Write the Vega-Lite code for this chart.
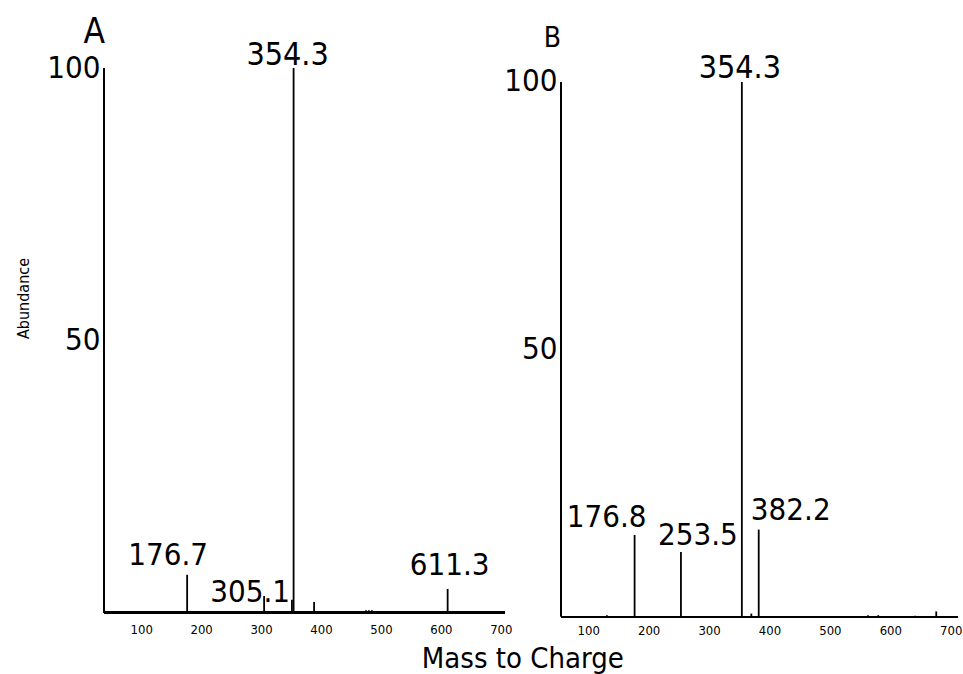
{
  "$schema": "https://vega.github.io/schema/vega-lite/v6.json",
  "padding": {"left": 15, "top": 15, "right": 5, "bottom": 5},
  "background": "white",
  "bounds": "flush",
  "spacing": 56,
  "title": {"text": "Mass to Charge", "orient": "bottom", "anchor": "middle", "dx": 34, "fontSize": 29, "offset": 8},
  "datasets": {
    "A": [
      {"mz": 176.7, "abundance": 7.0, "label": "176.7"},
      {"mz": 305.1, "abundance": 3.1, "label": "305.1"},
      {"mz": 354.3, "abundance": 100, "label": "354.3"},
      {"mz": 611.3, "abundance": 4.4, "label": "611.3"},
      {"mz": 388.5, "abundance": 2.0, "label": ""},
      {"mz": 351.5, "abundance": 2.4, "label": ""},
      {"mz": 339, "abundance": 0.3, "label": ""},
      {"mz": 362, "abundance": 0.3, "label": ""},
      {"mz": 475, "abundance": 0.5, "label": ""},
      {"mz": 480, "abundance": 0.5, "label": ""},
      {"mz": 485, "abundance": 0.5, "label": ""},
      {"mz": 210, "abundance": 0.3, "label": ""},
      {"mz": 270, "abundance": 0.3, "label": ""},
      {"mz": 440, "abundance": 0.2, "label": ""},
      {"mz": 638, "abundance": 0.3, "label": ""},
      {"mz": 684, "abundance": 0.3, "label": ""}
    ],
    "B": [
      {"mz": 176.8, "abundance": 15.3, "label": "176.8"},
      {"mz": 253.5, "abundance": 12.1, "label": "253.5"},
      {"mz": 354.3, "abundance": 100, "label": "354.3"},
      {"mz": 382.2, "abundance": 16.3, "label": "382.2"},
      {"mz": 370, "abundance": 0.6, "label": ""},
      {"mz": 131, "abundance": 0.3, "label": ""},
      {"mz": 563, "abundance": 0.3, "label": ""},
      {"mz": 580, "abundance": 0.3, "label": ""},
      {"mz": 641, "abundance": 0.2, "label": ""},
      {"mz": 676, "abundance": 1.0, "label": ""}
    ],
    "panelA": [{"panel": "A", "mz": 38, "abundance": 100}],
    "panelB": [{"panel": "B", "mz": 55, "abundance": 100}]
  },
  "hconcat": [
    {
      "width": 401,
      "height": 552,
      "layer": [
        {"data": {"name": "A"}, "mark": {"type": "rule", "strokeWidth": 1.8, "color": "black"},
          "encoding": {
            "x": {"field": "mz", "type": "quantitative", "scale": {"domain": [38, 707], "nice": false, "zero": false},
              "axis": {"values": [100, 200, 300, 400, 500, 600, 700], "domain": false, "ticks": false, "labelFontSize": 13, "labelPadding": 3, "labelFlush": false, "title": null}},
            "y": {"field": "abundance", "type": "quantitative", "scale": {"domain": [-1.3, 100], "nice": false, "zero": false},
              "axis": {"values": [50, 100], "domain": false, "ticks": false, "labelFontSize": 31, "labelPadding": 4, "title": "Abundance", "titleFontSize": 16, "titleFontWeight": "normal", "titlePadding": 15, "titleY": 230}},
            "y2": {"datum": 0}
          }},
        {"data": {"name": "A"}, "mark": {"type": "rule", "strokeWidth": 2.2, "color": "black"},
          "encoding": {"y": {"datum": 0, "type": "quantitative"}}},
        {"data": {"name": "panelA"}, "mark": {"type": "rule", "strokeWidth": 2, "color": "black"},
          "encoding": {"x": {"field": "mz", "type": "quantitative"}, "y": {"field": "abundance", "type": "quantitative"}, "y2": {"datum": 0}}},
        {"data": {"name": "panelA"}, "mark": {"type": "text", "fontSize": 35, "baseline": "alphabetic", "align": "right", "dx": 1, "dy": -25, "color": "black"},
          "encoding": {"x": {"field": "mz", "type": "quantitative"}, "y": {"field": "abundance", "type": "quantitative"}, "text": {"field": "panel"}}},
        {"data": {"name": "A"}, "transform": [{"filter": {"field": "label", "equal": "354.3"}}], "mark": {"type": "text", "fontSize": 32, "baseline": "alphabetic", "align": "center", "dx": -6, "dy": -3, "color": "black"},
          "encoding": {"x": {"field": "mz", "type": "quantitative"}, "y": {"field": "abundance", "type": "quantitative"}, "text": {"field": "label"}}},
        {"data": {"name": "A"}, "transform": [{"filter": {"field": "label", "equal": "176.7"}}], "mark": {"type": "text", "fontSize": 31, "baseline": "alphabetic", "align": "center", "dx": -19, "dy": -10, "color": "black"},
          "encoding": {"x": {"field": "mz", "type": "quantitative"}, "y": {"field": "abundance", "type": "quantitative"}, "text": {"field": "label"}}},
        {"data": {"name": "A"}, "transform": [{"filter": {"field": "label", "equal": "305.1"}}], "mark": {"type": "text", "fontSize": 31, "baseline": "alphabetic", "align": "center", "dx": -14, "dy": 6, "color": "black"},
          "encoding": {"x": {"field": "mz", "type": "quantitative"}, "y": {"field": "abundance", "type": "quantitative"}, "text": {"field": "label"}}},
        {"data": {"name": "A"}, "transform": [{"filter": {"field": "label", "equal": "611.3"}}], "mark": {"type": "text", "fontSize": 31, "baseline": "alphabetic", "align": "center", "dx": 2, "dy": -14, "color": "black"},
          "encoding": {"x": {"field": "mz", "type": "quantitative"}, "y": {"field": "abundance", "type": "quantitative"}, "text": {"field": "label"}}}
      ]
    },
    {
      "width": 397,
      "height": 552,
      "layer": [
        {"data": {"name": "B"}, "mark": {"type": "rule", "strokeWidth": 1.8, "color": "black"},
          "encoding": {
            "x": {"field": "mz", "type": "quantitative", "scale": {"domain": [55, 712], "nice": false, "zero": false},
              "axis": {"values": [100, 200, 300, 400, 500, 600, 700], "domain": false, "ticks": false, "labelFontSize": 13, "labelPadding": 4, "labelFlush": false, "title": null}},
            "y": {"field": "abundance", "type": "quantitative", "scale": {"domain": [-0.6, 102.6], "nice": false, "zero": false},
              "axis": {"values": [50, 100], "domain": false, "ticks": false, "labelFontSize": 31, "labelPadding": 4, "title": null}},
            "y2": {"datum": 0}
          }},
        {"data": {"name": "B"}, "mark": {"type": "rule", "strokeWidth": 1.6, "color": "black"},
          "encoding": {"y": {"datum": 0, "type": "quantitative"}}},
        {"data": {"name": "panelB"}, "mark": {"type": "rule", "strokeWidth": 2, "color": "black"},
          "encoding": {"x": {"field": "mz", "type": "quantitative"}, "y": {"field": "abundance", "type": "quantitative"}, "y2": {"datum": 0}}},
        {"data": {"name": "panelB"}, "mark": {"type": "text", "fontSize": 28, "baseline": "alphabetic", "align": "right", "dx": 0, "dy": -35, "color": "black"},
          "encoding": {"x": {"field": "mz", "type": "quantitative"}, "y": {"field": "abundance", "type": "quantitative"}, "text": {"field": "panel"}}},
        {"data": {"name": "B"}, "transform": [{"filter": {"field": "label", "equal": "354.3"}}], "mark": {"type": "text", "fontSize": 32, "baseline": "alphabetic", "align": "center", "dx": -2, "dy": -4, "color": "black"},
          "encoding": {"x": {"field": "mz", "type": "quantitative"}, "y": {"field": "abundance", "type": "quantitative"}, "text": {"field": "label"}}},
        {"data": {"name": "B"}, "transform": [{"filter": {"field": "label", "equal": "176.8"}}], "mark": {"type": "text", "fontSize": 31, "baseline": "alphabetic", "align": "center", "dx": -28, "dy": -8, "color": "black"},
          "encoding": {"x": {"field": "mz", "type": "quantitative"}, "y": {"field": "abundance", "type": "quantitative"}, "text": {"field": "label"}}},
        {"data": {"name": "B"}, "transform": [{"filter": {"field": "label", "equal": "253.5"}}], "mark": {"type": "text", "fontSize": 31, "baseline": "alphabetic", "align": "center", "dx": 17, "dy": -7, "color": "black"},
          "encoding": {"x": {"field": "mz", "type": "quantitative"}, "y": {"field": "abundance", "type": "quantitative"}, "text": {"field": "label"}}},
        {"data": {"name": "B"}, "transform": [{"filter": {"field": "label", "equal": "382.2"}}], "mark": {"type": "text", "fontSize": 31, "baseline": "alphabetic", "align": "center", "dx": 32, "dy": -10, "color": "black"},
          "encoding": {"x": {"field": "mz", "type": "quantitative"}, "y": {"field": "abundance", "type": "quantitative"}, "text": {"field": "label"}}}
      ]
    }
  ],
  "config": {
    "font": "DejaVu Sans Condensed",
    "view": {"stroke": null},
    "axis": {"grid": false, "labelColor": "black", "titleColor": "black", "domainColor": "black", "labelFont": "DejaVu Sans Condensed", "titleFont": "DejaVu Sans Condensed"},
    "title": {"color": "black", "fontWeight": "normal", "font": "DejaVu Sans Condensed"},
    "text": {"font": "DejaVu Sans Condensed"}
  }
}
